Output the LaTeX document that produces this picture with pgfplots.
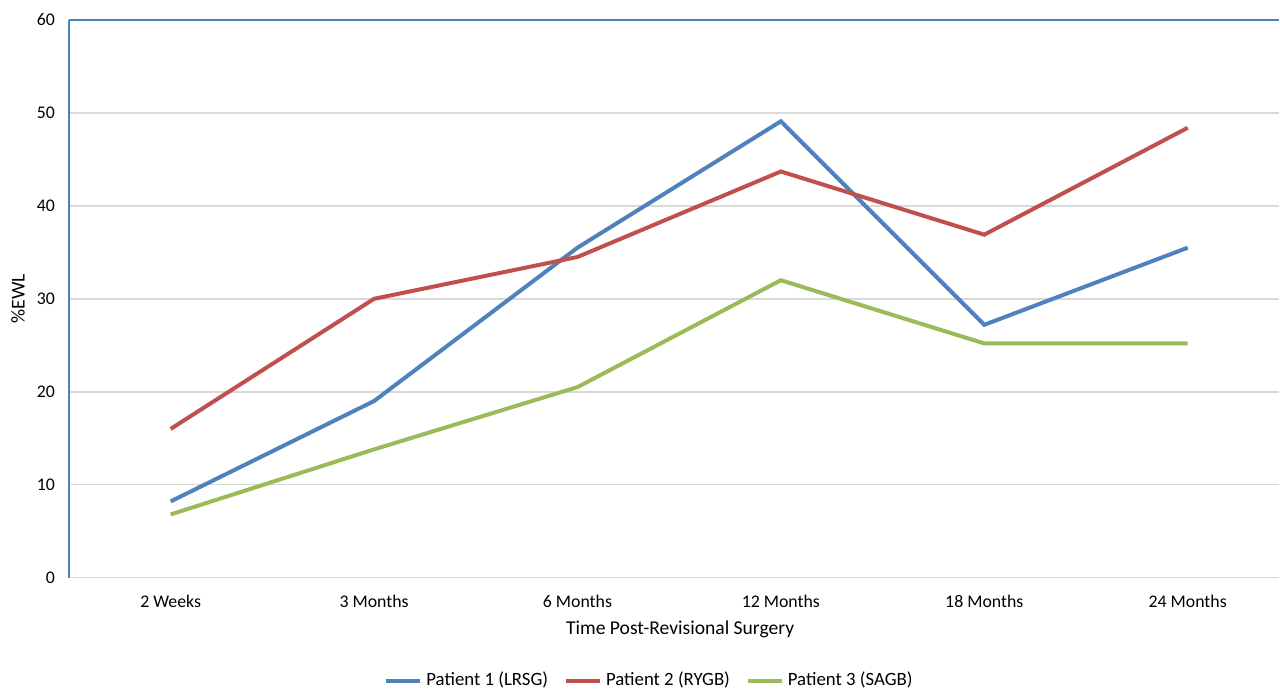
\documentclass[border=0pt]{standalone}
\usepackage{fontspec}
\setmainfont{Carlito}
\usepackage{pgfplots}
\pgfplotsset{compat=1.18}

\definecolor{pblue}{HTML}{4F81BD}
\definecolor{pred}{HTML}{C0504D}
\definecolor{pgreen}{HTML}{9BBB59}
\definecolor{gridgray}{HTML}{D9D9D9}

\begin{document}
\begin{tikzpicture}
\begin{axis}[
    name=ax,
    scale only axis,
    width=605.5pt, height=279pt,
    xmin=-0.5, xmax=5.45,
    ymin=0, ymax=60,
    xtick=data,
    xticklabels={2 Weeks, 3 Months, 6 Months, 12 Months, 18 Months, 24 Months},
    ytick={0,10,...,60},
    major tick length=0pt,
    axis x line*=bottom,
    axis y line*=left,
    x axis line style={draw=gridgray, thick, -},
    y axis line style={draw=pblue, semithick, -},
    ymajorgrids=true,
    grid style={draw=gridgray, thick},
    tick label style={font=\fontsize{8.9}{10}\selectfont},
    /pgf/number format/assume math mode=true,
    yticklabel style={xshift=-3.5pt},
    xticklabel style={yshift=-5pt},
    xlabel={Time Post-Revisional Surgery},
    ylabel={\%EWL},
    label style={font=\fontsize{9.8}{11}\selectfont},
    xlabel style={at={(axis description cs:0.505,-0.0935)}, anchor=center},
    ylabel style={at={(axis description cs:-0.042,0.5)}, anchor=center, rotate=0},
    legend columns=3,
    legend style={at={(axis description cs:0.4805,-0.1846)}, anchor=center,
        draw=none, font=\fontsize{9.4}{10}\selectfont,
        /tikz/every even column/.append style={column sep=6pt}},
    legend image code/.code={\draw[#1, line width=2pt] (0pt,0pt) -- (17pt,0pt);},
]
\addplot[pblue, line width=2pt] coordinates {
    (0, 8.2) (1, 19.0) (2, 35.5) (3, 49.1) (4, 27.2) (5, 35.5)
};
\addplot[pred, line width=2pt] coordinates {
    (0, 16.0) (1, 30.0) (2, 34.5) (3, 43.7) (4, 36.9) (5, 48.4)
};
\addplot[pgreen, line width=2pt] coordinates {
    (0, 6.8) (1, 13.8) (2, 20.5) (3, 32.0) (4, 25.2) (5, 25.2)
};
\draw[pblue, semithick] (rel axis cs:0,1) -- (rel axis cs:1,1);
\legend{Patient 1 (LRSG), Patient 2 (RYGB), Patient 3 (SAGB)}
\end{axis}
\path[use as bounding box] ([xshift=-34.5pt,yshift=-56pt]ax.south west) rectangle ([yshift=10pt]ax.north east);
\end{tikzpicture}
\end{document}
